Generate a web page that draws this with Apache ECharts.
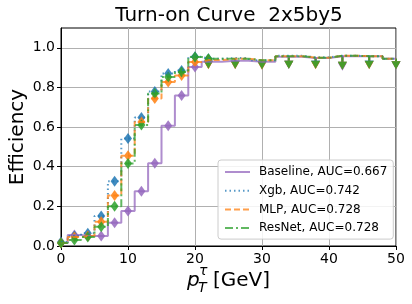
<!DOCTYPE html>
<html><head><meta charset="utf-8">
<script src="https://cdn.jsdelivr.net/npm/echarts@6/dist/echarts.min.js"></script>
<style>html,body{margin:0;padding:0;background:#fff}#c{width:412px;height:304px}</style>
</head><body><div id="c"></div>
<script>
// bin centres (GeV)
const xs = [0,2,4,6,8,10,12,14,16,18,20,22,26,30,34,38,42,46,50];
// efficiencies per model
const baseline = [0.015,0.055,0.05,0.05,0.117,0.176,0.276,0.418,0.607,0.759,0.903,0.930,0.935,0.930,0.955,0.948,0.957,0.957,0.945];
const xgb      = [0.02,0.05,0.064,0.151,0.327,0.542,0.648,0.78,0.87,0.885,0.955,0.945,0.948,0.937,0.96,0.952,0.96,0.958,0.945];
const mlp      = [0.015,0.045,0.05,0.122,0.255,0.455,0.626,0.744,0.828,0.86,0.928,0.938,0.945,0.937,0.958,0.95,0.96,0.958,0.945];
const resnet   = [0.015,0.03,0.045,0.097,0.2,0.416,0.61,0.769,0.853,0.878,0.954,0.945,0.945,0.937,0.958,0.95,0.96,0.958,0.945];
// high-pT bins drawn as limit carets: x positions and lower ends
const xsLim = [22,26,30,34,38,42,46,50];
const baselineLow = [0.915,0.915,0.912,0.915,0.915,0.905,0.915,0.912];
const xgbLow      = [0.915,0.915,0.912,0.915,0.915,0.91,0.915,0.912];
const mlpLow      = [0.912,0.912,0.91,0.915,0.912,0.91,0.912,0.912];
const resnetLow   = [0.915,0.915,0.912,0.915,0.915,0.91,0.915,0.912];
const names = ['Baseline, AUC=0.667','Xgb, AUC=0.742','MLP, AUC=0.728','ResNet, AUC=0.728'];
const xTicks = [0,10,20,30,40,50];
const yTicks = [0,0.2,0.4,0.6,0.8,1.0];

const FONT = 'DejaVu Sans';
const models = [
  {name:names[0], vals:baseline, low:baselineLow, color:'#9467bd', type:'solid', w:2},
  {name:names[1], vals:xgb, low:xgbLow, color:'#1f77b4', type:[1.5,3], w:2},
  {name:names[2], vals:mlp, low:mlpLow, color:'#ff7f0e', type:[6,3], w:2},
  {name:names[3], vals:resnet, low:resnetLow, color:'#2ca02c', type:[8,3,2,3], w:2}
];
const OP = 0.75;
const series = [];
models.forEach(m => {
  series.push({
    name:m.name, type:'line', step:'middle', symbol:'none', showSymbol:false, animation:false,
    data: xs.map((x,i)=>[x,m.vals[i]]),
    itemStyle:{color:m.color, opacity:OP},
    lineStyle:{color:m.color, width:m.w, type:m.type, opacity:OP}
  });
  series.push({
    type:'scatter', symbol:'diamond', symbolSize:[8,11], animation:false,
    data: xs.filter(x=>x<=22).map(x=>[x, m.vals[xs.indexOf(x)]]),
    itemStyle:{color:m.color, opacity:0.85}
  });
  series.push({
    type:'custom', animation:false,
    data: xsLim.map((x,i)=>[x, m.low[i], m.vals[xs.indexOf(x)]]),
    renderItem:(params, api)=>{
      const p1 = api.coord([api.value(0), api.value(1)]);
      const p2 = api.coord([api.value(0), api.value(2)]);
      return {type:'line', shape:{x1:p1[0],y1:p1[1],x2:p2[0],y2:p2[1]},
        style:{stroke:m.color, lineWidth:2, opacity:0.85}};
    }
  });
  series.push({
    type:'scatter', symbol:'triangle', symbolRotate:180, symbolSize:[9,8], animation:false,
    data: xsLim.map((x,i)=>[x, m.low[i]]),
    itemStyle:{color:m.color, opacity:0.85}
  });
});

const chart = echarts.init(document.getElementById('c'), null, {renderer:'canvas'});
chart.setOption({
  backgroundColor:'#fff',
  animation:false,
  grid:{left:61, right:16, top:28, bottom:58, outerBoundsMode:'none', containLabel:false, show:true, borderColor:'#000', borderWidth:1, backgroundColor:'transparent'},
  xAxis:{type:'value', min:0, max:50, interval:10,
    axisLine:{show:true, lineStyle:{color:'#000'}},
    axisTick:{show:true, inside:false, length:4, lineStyle:{color:'#000'}, customValues:xTicks},
    axisLabel:{fontSize:14, color:'#000', fontFamily:FONT, margin:6, customValues:xTicks},
    splitLine:{show:true, lineStyle:{color:'#b0b0b0', width:1}}
  },
  yAxis:{type:'value', min:0, max:1.1, interval:0.2,
    axisLine:{show:true, lineStyle:{color:'#000'}},
    axisTick:{show:true, length:4, lineStyle:{color:'#000'}, customValues:yTicks},
    axisLabel:{fontSize:14, color:'#000', fontFamily:FONT, margin:6, customValues:yTicks, formatter:v=>Number(v).toFixed(1)},
    splitLine:{show:true, lineStyle:{color:'#b0b0b0', width:1}}
  },
  legend:{
    data:names, orient:'vertical', left:218, top:160,
    itemWidth:25, itemHeight:12, itemGap:6.7,
    padding:[6,6,5,6],
    itemStyle:{opacity:0},
    backgroundColor:'rgba(255,255,255,0.85)', borderColor:'#cccccc', borderWidth:1, borderRadius:3,
    textStyle:{fontSize:12, color:'#000', fontFamily:FONT, padding:[0,0,0,4]}
  },
  graphic:[
    {type:'text', x:229, y:16, style:{text:'Turn-on Curve  2x5by5', font:'20px "DejaVu Sans"', fill:'#000', align:'center', verticalAlign:'middle'}},
    {type:'text', x:18, y:137, rotation:Math.PI/2, style:{text:'Efficiency', font:'20px "DejaVu Sans"', fill:'#000', align:'center', verticalAlign:'middle'}},
    {type:'text', x:187, y:281, style:{text:'p', font:'italic 20px "DejaVu Sans"', fill:'#000', verticalAlign:'middle'}},
    {type:'text', x:199, y:271, style:{text:'τ', font:'italic 14px "DejaVu Sans"', fill:'#000', verticalAlign:'middle'}},
    {type:'text', x:198, y:288, style:{text:'T', font:'italic 14px "DejaVu Sans"', fill:'#000', verticalAlign:'middle'}},
    {type:'text', x:213, y:281, style:{text:'[GeV]', font:'20px "DejaVu Sans"', fill:'#000', verticalAlign:'middle'}}
  ],
  series
});
</script></body></html>
